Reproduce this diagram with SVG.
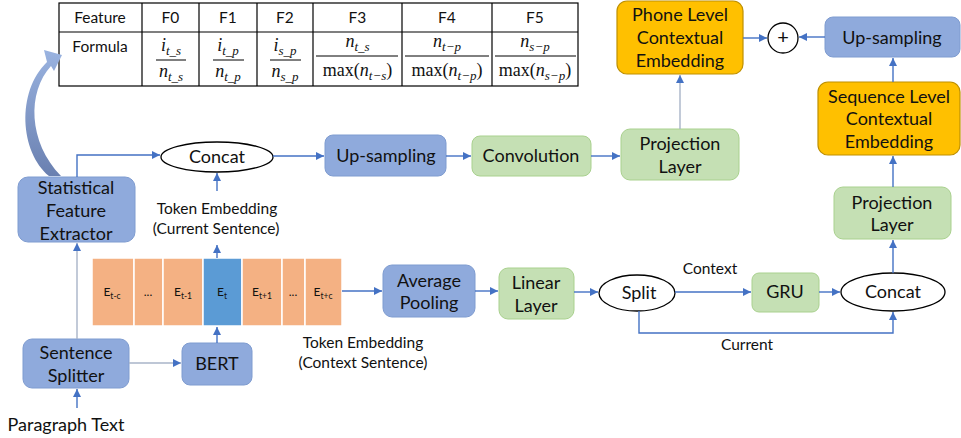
<svg xmlns="http://www.w3.org/2000/svg" width="961" height="438" viewBox="0 0 961 438">
  <defs>
    <marker id="arr" viewBox="0 0 10 10" refX="10" refY="5" markerWidth="9" markerHeight="8" markerUnits="userSpaceOnUse" orient="auto">
      <path d="M0,0 L10,5 L0,10 z" fill="#4472C4"/>
    </marker>
    <linearGradient id="curveGrad" x1="0" y1="0" x2="0" y2="1">
      <stop offset="0" stop-color="#9AB3E0"/>
      <stop offset="1" stop-color="#6A80B0"/>
    </linearGradient>
    <style>
      text { font-family: Lato, "Liberation Sans", sans-serif; fill: #111; }
      .lbl { font-size: 18px; text-anchor: middle; }
      .sm { font-size: 15.5px; text-anchor: middle; }
      .blue { fill: #8FAADC; stroke: #7F9CD0; stroke-width: 1; }
      .green { fill: #C5E0B4; stroke: #A9D18E; stroke-width: 1; }
      .orange { fill: #FFC000; stroke: #BF9000; stroke-width: 1.2; }
      .ell { fill: #fff; stroke: #000; stroke-width: 1.3; }
      .conn { fill: none; stroke: #4472C4; stroke-width: 1.4; marker-end: url(#arr); }
      .gray { fill: none; stroke: #A8B4C8; stroke-width: 1.4; marker-end: url(#arr); }
      .tbl { fill: none; stroke: #000; stroke-width: 1.2; }
      .th { font-size: 15.5px; text-anchor: middle; }
      .m { font-family: "Liberation Serif", "DejaVu Serif", serif; font-size: 18px; text-anchor: middle; }
      .i { font-style: italic; }
      .sub { font-size: 13px; font-style: italic; }
      .cell { fill: #F4B183; stroke: #fff; stroke-width: 1.5; }
      .cellT { fill: #5B9BD5; stroke: #fff; stroke-width: 1.5; }
      .e { font-size: 12px; text-anchor: middle; }
      .es { font-size: 8.5px; }
    </style>
  </defs>

  <!-- feature table -->
  <g id="feature-table">
    <rect class="tbl" x="59" y="3" width="519" height="83"/>
    <line class="tbl" x1="59" y1="32" x2="578" y2="32"/>
    <line class="tbl" x1="142" y1="3" x2="142" y2="86"/>
    <line class="tbl" x1="199" y1="3" x2="199" y2="86"/>
    <line class="tbl" x1="257" y1="3" x2="257" y2="86"/>
    <line class="tbl" x1="313" y1="3" x2="313" y2="86"/>
    <line class="tbl" x1="402" y1="3" x2="402" y2="86"/>
    <line class="tbl" x1="492" y1="3" x2="492" y2="86"/>
    <text class="th" x="100" y="23">Feature</text>
    <text class="th" x="170.5" y="23">F0</text>
    <text class="th" x="228" y="23">F1</text>
    <text class="th" x="285" y="23">F2</text>
    <text class="th" x="357.5" y="23">F3</text>
    <text class="th" x="447" y="23">F4</text>
    <text class="th" x="535" y="23">F5</text>
    <text class="th" x="100" y="52">Formula</text>

    <!-- F0 -->
    <text class="m" x="171" y="51"><tspan class="i">i</tspan><tspan class="sub" dy="4">t_s</tspan></text>
    <line x1="156" y1="60" x2="186" y2="60" stroke="#000" stroke-width="1"/>
    <text class="m" x="171" y="77"><tspan class="i">n</tspan><tspan class="sub" dy="4">t_s</tspan></text>
    <!-- F1 -->
    <text class="m" x="228" y="51"><tspan class="i">i</tspan><tspan class="sub" dy="4">t_p</tspan></text>
    <line x1="213" y1="60" x2="244" y2="60" stroke="#000" stroke-width="1"/>
    <text class="m" x="228" y="77"><tspan class="i">n</tspan><tspan class="sub" dy="4">t_p</tspan></text>
    <!-- F2 -->
    <text class="m" x="285" y="51"><tspan class="i">i</tspan><tspan class="sub" dy="4">s_p</tspan></text>
    <line x1="270" y1="60" x2="301" y2="60" stroke="#000" stroke-width="1"/>
    <text class="m" x="285" y="77"><tspan class="i">n</tspan><tspan class="sub" dy="4">s_p</tspan></text>
    <!-- F3 -->
    <text class="m" x="357.5" y="47"><tspan class="i">n</tspan><tspan class="sub" dy="4">t_s</tspan></text>
    <line x1="316" y1="56" x2="398" y2="56" stroke="#000" stroke-width="1"/>
    <text class="m" x="357.5" y="76">max(<tspan class="i">n</tspan><tspan class="sub" dy="4">t−s</tspan><tspan dy="-4">)</tspan></text>
    <!-- F4 -->
    <text class="m" x="447" y="47"><tspan class="i">n</tspan><tspan class="sub" dy="4">t−p</tspan></text>
    <line x1="405" y1="56" x2="489" y2="56" stroke="#000" stroke-width="1"/>
    <text class="m" x="447" y="76">max(<tspan class="i">n</tspan><tspan class="sub" dy="4">t−p</tspan><tspan dy="-4">)</tspan></text>
    <!-- F5 -->
    <text class="m" x="535" y="47"><tspan class="i">n</tspan><tspan class="sub" dy="4">s−p</tspan></text>
    <line x1="495" y1="56" x2="576" y2="56" stroke="#000" stroke-width="1"/>
    <text class="m" x="535" y="76">max(<tspan class="i">n</tspan><tspan class="sub" dy="4">s−p</tspan><tspan dy="-4">)</tspan></text>
  </g>

  <!-- nodes -->
  <g id="stat-extractor">
    <rect class="blue" x="18" y="177" width="117" height="65" rx="10"/>
    <text class="lbl" x="76" y="194">Statistical</text>
    <text class="lbl" x="76" y="217">Feature</text>
    <text class="lbl" x="76" y="240">Extractor</text>
  </g>
  <g id="sentence-splitter">
    <rect class="blue" x="23" y="339" width="106" height="49" rx="9"/>
    <text class="lbl" x="76" y="359">Sentence</text>
    <text class="lbl" x="76" y="382">Splitter</text>
  </g>
  <g id="paragraph-text">
    <text class="lbl" x="66" y="431">Paragraph Text</text>
  </g>
  <g id="bert">
    <rect class="blue" x="182" y="343" width="70" height="42" rx="8"/>
    <text class="lbl" x="217" y="370">BERT</text>
  </g>

  <g id="token-strip">
    <rect class="cell" x="92" y="258" width="42" height="68"/>
    <rect class="cell" x="134" y="258" width="29" height="68"/>
    <rect class="cell" x="163" y="258" width="40" height="68"/>
    <rect class="cellT" x="203" y="258" width="39" height="68"/>
    <rect class="cell" x="242" y="258" width="40" height="68"/>
    <rect class="cell" x="282" y="258" width="23" height="68"/>
    <rect class="cell" x="305" y="258" width="37" height="68"/>
    <text class="e" x="112" y="296">E<tspan class="es" dy="3">t-c</tspan></text>
    <text class="e" x="148" y="296">...</text>
    <text class="e" x="183" y="296">E<tspan class="es" dy="3">t-1</tspan></text>
    <text class="e" x="222" y="296">E<tspan class="es" dy="3">t</tspan></text>
    <text class="e" x="262" y="296">E<tspan class="es" dy="3">t+1</tspan></text>
    <text class="e" x="293" y="296">...</text>
    <text class="e" x="323" y="296">E<tspan class="es" dy="3">t+c</tspan></text>
  </g>
  <g id="token-current-label">
    <text class="sm" x="217" y="214">Token Embedding</text>
    <text class="sm" x="216" y="234">(Current Sentence)</text>
  </g>
  <g id="token-context-label">
    <text class="sm" x="363" y="348">Token Embedding</text>
    <text class="sm" x="363" y="368">(Context Sentence)</text>
  </g>

  <g id="concat-top">
    <ellipse class="ell" cx="217" cy="157" rx="56" ry="15"/>
    <text class="lbl" x="217" y="163">Concat</text>
  </g>
  <g id="upsampling-top">
    <rect class="blue" x="325" y="135" width="121" height="41" rx="8"/>
    <text class="lbl" x="386" y="162">Up-sampling</text>
  </g>
  <g id="convolution">
    <rect class="green" x="472" y="136" width="119" height="40" rx="8"/>
    <text class="lbl" x="531" y="162">Convolution</text>
  </g>
  <g id="projection-top">
    <rect class="green" x="621" y="129" width="118" height="51" rx="9"/>
    <text class="lbl" x="680" y="150">Projection</text>
    <text class="lbl" x="680" y="173">Layer</text>
  </g>
  <g id="phone-embedding">
    <rect class="orange" x="617" y="1" width="126" height="73" rx="10"/>
    <text class="lbl" x="680" y="21">Phone Level</text>
    <text class="lbl" x="680" y="44">Contextual</text>
    <text class="lbl" x="680" y="67">Embedding</text>
  </g>
  <g id="sum">
    <circle cx="783" cy="38" r="15" fill="#fff" stroke="#000" stroke-width="1.3"/>
    <text class="lbl" x="783" y="44" style="font-size:20px">+</text>
  </g>
  <g id="upsampling-right">
    <rect class="blue" x="825" y="17" width="135" height="40" rx="8"/>
    <text class="lbl" x="892" y="44">Up-sampling</text>
  </g>
  <g id="sequence-embedding">
    <rect class="orange" x="818" y="82" width="142" height="73" rx="10"/>
    <text class="lbl" x="889" y="103">Sequence Level</text>
    <text class="lbl" x="889" y="125">Contextual</text>
    <text class="lbl" x="889" y="148">Embedding</text>
  </g>
  <g id="projection-right">
    <rect class="green" x="834" y="187" width="117" height="52" rx="9"/>
    <text class="lbl" x="892" y="209">Projection</text>
    <text class="lbl" x="892" y="231">Layer</text>
  </g>
  <g id="average-pooling">
    <rect class="blue" x="383" y="265" width="92" height="52" rx="9"/>
    <text class="lbl" x="429" y="287">Average</text>
    <text class="lbl" x="429" y="309">Pooling</text>
  </g>
  <g id="linear-layer">
    <rect class="green" x="499" y="268" width="75" height="51" rx="9"/>
    <text class="lbl" x="536" y="289">Linear</text>
    <text class="lbl" x="536" y="312">Layer</text>
  </g>
  <g id="split">
    <ellipse class="ell" cx="637" cy="293" rx="38" ry="18"/>
    <text class="lbl" x="639" y="299">Split</text>
  </g>
  <g id="gru">
    <rect class="green" x="752" y="273" width="67" height="39" rx="7"/>
    <text class="lbl" x="785" y="298">GRU</text>
  </g>
  <g id="concat-right">
    <ellipse class="ell" cx="893" cy="292" rx="52" ry="19"/>
    <text class="lbl" x="893" y="298">Concat</text>
  </g>

  <!-- connectors -->
  <g id="connectors">
    <path class="conn" d="M77,408 V389"/>
    <path class="gray" d="M77,339 V243"/>
    <path class="gray" d="M129,363 H181"/>
    <path class="conn" d="M217,343 V327"/>
    <path class="conn" d="M217,258 V245"/>
    <path class="conn" d="M217,191 V173"/>
    <path class="conn" d="M77,177 V155 H160"/>
    <path class="conn" d="M273,156 H324"/>
    <path class="conn" d="M446,156 H471"/>
    <path class="conn" d="M591,156 H620"/>
    <path class="gray" d="M680,129 V75"/>
    <path class="conn" d="M743,38 H767"/>
    <path class="conn" d="M825,37 H799"/>
    <path class="conn" d="M893,82 V58"/>
    <path class="conn" d="M893,187 V156"/>
    <path class="conn" d="M893,273 V240"/>
    <path class="conn" d="M342,291 H382"/>
    <path class="conn" d="M475,291 H498"/>
    <path class="conn" d="M574,292 H598"/>
    <path class="conn" d="M675,292 H751"/>
    <path class="conn" d="M819,292 H840"/>
    <path class="conn" d="M639,311 V333 H893 V312"/>
    <!-- curved arrow from the extractor up to the table -->
    <path d="M49,176 C20,152 16,92 47,62 L44,50 L62,55 L54,71 L51,66 C27,92 28,142 61,176 Z" fill="url(#curveGrad)"/>
  </g>
  <g id="edge-labels">
    <text class="sm" x="710" y="274">Context</text>
    <text class="sm" x="747" y="350">Current</text>
  </g>
</svg>
